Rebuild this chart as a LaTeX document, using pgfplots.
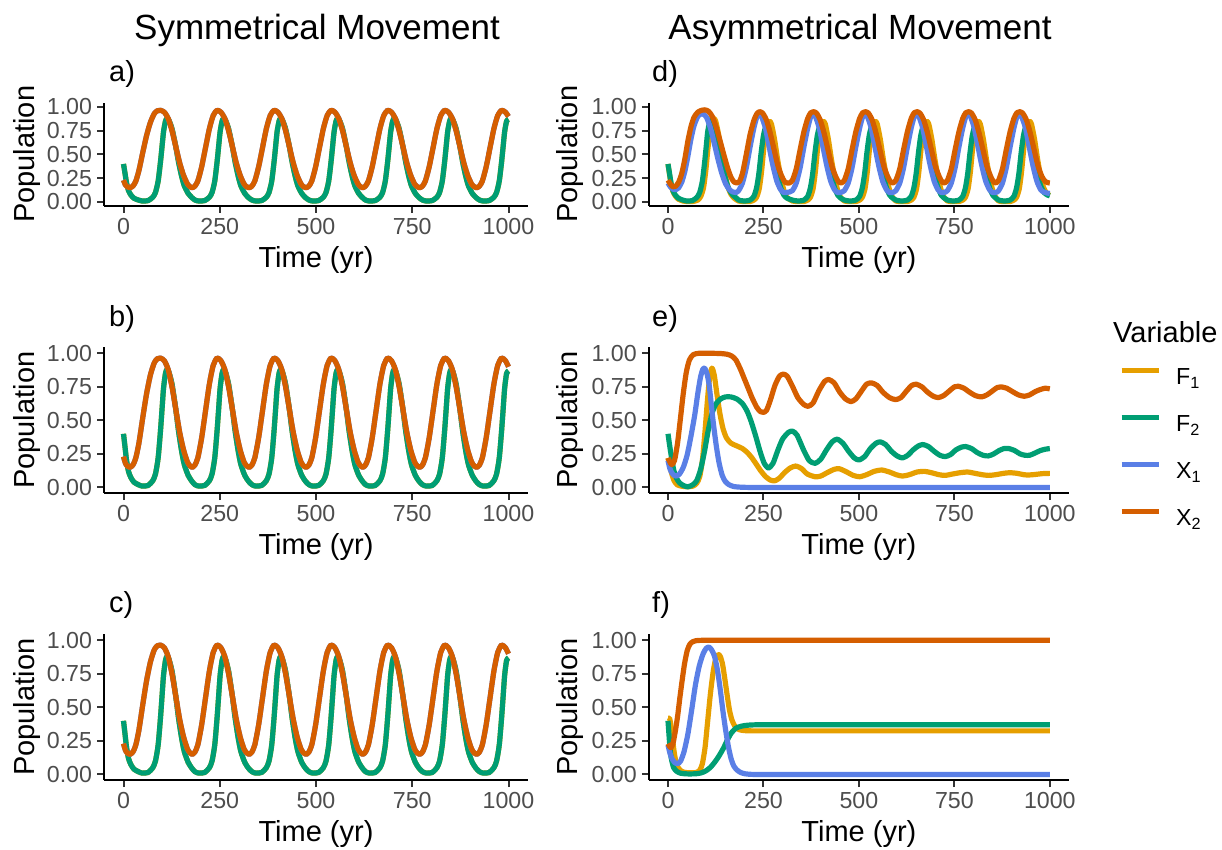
\documentclass[border=0pt]{standalone}
\usepackage{pgfplots}
\pgfplotsset{compat=1.18}
\usepackage{pgfplotstable}
\usepackage{fontspec}
\setmainfont{Liberation Sans}
\definecolor{cF1}{HTML}{E69F00}
\definecolor{cF2}{HTML}{009E73}
\definecolor{cX1}{HTML}{5A7FE6}
\definecolor{cX2}{HTML}{D55E00}
\definecolor{tickgray}{HTML}{4D4D4D}
\definecolor{tickcol}{HTML}{333333}

% ---------------- symmetric panels (a, b, c) ----------------
\pgfplotstableread{
t v
0 0.23
5 0.18
10 0.16
17 0.15
25 0.17
32 0.22
40 0.33
50 0.52
60 0.70
70 0.84
80 0.93
88 0.96
96 0.965
106 0.945
116 0.88
126 0.75
136 0.58
146 0.41
156 0.28
166 0.19
173 0.16
178 0.15
185 0.165
193 0.22
203 0.37
213 0.57
223 0.77
233 0.91
243 0.965
253 0.945
263 0.88
273 0.75
283 0.58
293 0.41
303 0.28
313 0.19
320 0.16
326 0.15
333 0.165
341 0.22
351 0.37
361 0.57
371 0.77
381 0.91
391 0.965
401 0.945
411 0.88
421 0.75
431 0.58
441 0.41
451 0.28
461 0.19
468 0.16
474 0.15
481 0.165
489 0.22
499 0.37
509 0.57
519 0.77
529 0.91
539 0.965
549 0.945
559 0.88
569 0.75
579 0.58
589 0.41
599 0.28
609 0.19
616 0.16
621 0.15
628 0.165
636 0.22
646 0.37
656 0.57
666 0.77
676 0.91
686 0.965
696 0.945
706 0.88
716 0.75
726 0.58
736 0.41
746 0.28
756 0.19
763 0.16
769 0.15
776 0.165
784 0.22
794 0.37
804 0.57
814 0.77
824 0.91
834 0.965
844 0.945
854 0.88
864 0.75
874 0.58
884 0.41
894 0.28
904 0.19
911 0.16
917 0.15
924 0.165
932 0.22
942 0.37
952 0.57
962 0.77
972 0.91
982 0.965
992 0.945
1000 0.90
}\symX

\pgfplotstableread{
t v
0 0.40
4 0.30
8 0.20
13 0.12
19 0.075
27 0.04
39 0.02
49 0.01
64 0.015
76 0.05
83 0.10
90 0.22
96 0.42
100 0.58
104 0.74
109 0.85
113 0.88
118 0.86
126 0.77
135 0.60
143 0.42
151 0.27
158 0.17
168 0.09
178 0.045
186 0.02
196 0.01
211 0.015
223 0.05
230 0.10
237 0.22
243 0.42
247 0.58
251 0.74
256 0.85
260 0.88
265 0.86
273 0.77
282 0.60
290 0.42
298 0.27
305 0.17
315 0.09
325 0.045
334 0.02
344 0.01
359 0.015
371 0.05
378 0.10
385 0.22
391 0.42
395 0.58
399 0.74
404 0.85
408 0.88
413 0.86
421 0.77
430 0.60
438 0.42
446 0.27
453 0.17
463 0.09
473 0.045
482 0.02
492 0.01
507 0.015
519 0.05
526 0.10
533 0.22
539 0.42
543 0.58
547 0.74
552 0.85
556 0.88
561 0.86
569 0.77
578 0.60
586 0.42
594 0.27
601 0.17
611 0.09
621 0.045
629 0.02
639 0.01
654 0.015
666 0.05
673 0.10
680 0.22
686 0.42
690 0.58
694 0.74
699 0.85
703 0.88
708 0.86
716 0.77
725 0.60
733 0.42
741 0.27
748 0.17
758 0.09
768 0.045
777 0.02
787 0.01
802 0.015
814 0.05
821 0.10
828 0.22
834 0.42
838 0.58
842 0.74
847 0.85
851 0.88
856 0.86
864 0.77
873 0.60
881 0.42
889 0.27
896 0.17
906 0.09
916 0.045
925 0.02
935 0.01
950 0.015
962 0.05
969 0.10
976 0.22
982 0.42
986 0.58
990 0.74
995 0.85
1000 0.87
}\symF

% ---------------- panel d ----------------
\pgfplotstableread{
t v
0 0.23
6 0.19
13 0.16
20 0.165
28 0.21
36 0.30
44 0.45
52 0.64
60 0.79
68 0.89
78 0.945
88 0.965
96 0.97
106 0.955
116 0.90
126 0.79
136 0.65
146 0.50
156 0.36
165 0.26
173 0.21
180 0.20
187 0.215
195 0.30
205 0.50
215 0.71
225 0.86
233 0.93
240 0.95
248 0.935
258 0.86
268 0.72
278 0.55
288 0.38
298 0.27
306 0.21
312 0.20
318 0.20
326 0.23
336 0.35
346 0.55
356 0.74
366 0.88
374 0.94
381 0.95
389 0.935
399 0.86
409 0.72
419 0.55
429 0.38
439 0.27
447 0.21
454 0.20
462 0.23
472 0.35
482 0.55
492 0.74
502 0.88
510 0.94
517 0.95
525 0.935
535 0.86
545 0.72
555 0.55
565 0.38
575 0.27
583 0.21
589 0.20
597 0.23
607 0.35
617 0.55
627 0.74
637 0.88
645 0.94
652 0.95
660 0.935
670 0.86
680 0.72
690 0.55
700 0.38
710 0.27
718 0.21
724 0.20
732 0.23
742 0.35
752 0.55
762 0.74
772 0.88
780 0.94
787 0.95
795 0.935
805 0.86
815 0.72
825 0.55
835 0.38
845 0.27
853 0.21
859 0.20
866 0.23
876 0.35
886 0.55
896 0.74
906 0.88
914 0.94
921 0.95
929 0.935
939 0.86
949 0.72
959 0.55
969 0.38
979 0.27
987 0.22
993 0.205
1000 0.20
}\dXtwo

\pgfplotstableread{
t v
0 0.20
6 0.16
13 0.135
20 0.13
28 0.15
36 0.21
44 0.32
52 0.48
60 0.66
68 0.80
78 0.90
88 0.93
94 0.92
101 0.89
111 0.78
121 0.62
131 0.45
141 0.30
151 0.19
161 0.13
170 0.105
178 0.10
185 0.12
195 0.20
205 0.36
215 0.58
225 0.78
233 0.90
238 0.93
245 0.90
255 0.78
265 0.58
275 0.38
285 0.22
295 0.13
303 0.10
310 0.10
318 0.105
326 0.12
336 0.20
346 0.36
356 0.58
366 0.78
374 0.90
379 0.93
386 0.90
396 0.78
406 0.58
416 0.38
426 0.22
436 0.13
444 0.10
451 0.10
456 0.105
462 0.12
472 0.20
482 0.36
492 0.58
502 0.78
510 0.90
515 0.93
522 0.90
532 0.78
542 0.58
552 0.38
562 0.22
572 0.13
580 0.10
587 0.10
592 0.105
597 0.12
607 0.20
617 0.36
627 0.58
637 0.78
645 0.90
650 0.93
657 0.90
667 0.78
677 0.58
687 0.38
697 0.22
707 0.13
715 0.10
722 0.10
727 0.105
732 0.12
742 0.20
752 0.36
762 0.58
772 0.78
780 0.90
785 0.93
792 0.90
802 0.78
812 0.58
822 0.38
832 0.22
842 0.13
850 0.10
857 0.10
862 0.105
866 0.12
876 0.20
886 0.36
896 0.58
906 0.78
914 0.90
919 0.93
926 0.90
936 0.78
946 0.58
956 0.38
966 0.22
976 0.13
984 0.105
992 0.095
1000 0.09
}\dXone

\pgfplotstableread{
t v
0 0.40
4 0.30
8 0.20
13 0.12
19 0.075
27 0.04
39 0.02
49 0.01
64 0.015
76 0.05
83 0.10
90 0.22
96 0.42
100 0.58
104 0.74
109 0.84
113 0.87
118 0.85
126 0.75
135 0.57
143 0.39
151 0.24
158 0.15
168 0.08
178 0.045
185 0.02
200 0.01
215 0.02
225 0.06
232 0.15
238 0.30
244 0.52
250 0.70
255 0.78
259 0.80
264 0.77
272 0.62
280 0.43
288 0.26
296 0.14
304 0.07
312 0.04
326 0.02
341 0.01
356 0.02
366 0.06
373 0.15
379 0.30
385 0.52
391 0.70
396 0.78
400 0.80
405 0.77
413 0.62
421 0.43
429 0.26
437 0.14
445 0.07
453 0.04
462 0.02
477 0.01
492 0.02
502 0.06
509 0.15
515 0.30
521 0.52
527 0.70
532 0.78
536 0.80
541 0.77
549 0.62
557 0.43
565 0.26
573 0.14
581 0.07
589 0.04
597 0.02
612 0.01
627 0.02
637 0.06
644 0.15
650 0.30
656 0.52
662 0.70
667 0.78
671 0.80
676 0.77
684 0.62
692 0.43
700 0.26
708 0.14
716 0.07
724 0.04
732 0.02
747 0.01
762 0.02
772 0.06
779 0.15
785 0.30
791 0.52
797 0.70
802 0.78
806 0.80
811 0.77
819 0.62
827 0.43
835 0.26
843 0.14
851 0.07
859 0.04
866 0.02
881 0.01
896 0.02
906 0.06
913 0.15
919 0.30
925 0.52
931 0.70
936 0.78
940 0.80
945 0.77
953 0.62
961 0.43
969 0.27
977 0.16
985 0.10
993 0.075
1000 0.065
}\dFtwo

\pgfplotstableread{
t v
0 0.40
4 0.29
8 0.19
13 0.11
19 0.065
27 0.03
39 0.01
49 0.005
64 0.005
78 0.02
86 0.06
93 0.15
99 0.33
105 0.58
111 0.77
116 0.86
120 0.88
125 0.85
133 0.70
141 0.49
149 0.30
157 0.16
165 0.08
175 0.035
185 0.01
200 0.005
215 0.005
225 0.02
232 0.05
239 0.14
245 0.32
251 0.57
257 0.75
262 0.83
266 0.85
271 0.82
279 0.66
287 0.45
295 0.27
303 0.13
311 0.05
326 0.01
341 0.005
356 0.005
366 0.02
373 0.05
380 0.14
386 0.32
392 0.57
398 0.75
403 0.83
407 0.85
412 0.82
420 0.66
428 0.45
436 0.27
444 0.13
452 0.05
462 0.01
477 0.005
492 0.005
502 0.02
509 0.05
516 0.14
522 0.32
528 0.57
534 0.75
539 0.83
543 0.85
548 0.82
556 0.66
564 0.45
572 0.27
580 0.13
588 0.05
597 0.01
612 0.005
627 0.005
637 0.02
644 0.05
651 0.14
657 0.32
663 0.57
669 0.75
674 0.83
678 0.85
683 0.82
691 0.66
699 0.45
707 0.27
715 0.13
723 0.05
732 0.01
747 0.005
762 0.005
772 0.02
779 0.05
786 0.14
792 0.32
798 0.57
804 0.75
809 0.83
813 0.85
818 0.82
826 0.66
834 0.45
842 0.27
850 0.13
858 0.05
866 0.01
881 0.005
896 0.005
906 0.02
913 0.05
920 0.14
926 0.32
932 0.57
938 0.75
943 0.83
947 0.85
952 0.82
960 0.66
968 0.45
976 0.27
984 0.15
992 0.09
1000 0.07
}\dFone

% ---------------- panel e ----------------
\pgfplotstableread{
t v
0 0.22
5 0.19
10 0.17
17 0.20
25 0.33
32 0.50
40 0.70
48 0.86
56 0.95
66 0.99
80 1.0
100 1.0
120 1.0
140 0.998
155 0.993
167 0.98
178 0.95
190 0.88
200 0.81
210 0.74
220 0.67
232 0.60
242 0.565
250 0.56
258 0.575
268 0.65
280 0.76
292 0.83
302 0.845
312 0.83
325 0.76
340 0.67
355 0.62
367 0.605
380 0.63
395 0.72
410 0.79
421 0.805
435 0.78
450 0.71
465 0.66
479 0.64
492 0.66
507 0.72
520 0.77
533 0.78
548 0.76
563 0.71
580 0.67
596 0.655
610 0.67
625 0.72
638 0.76
650 0.77
665 0.75
680 0.71
695 0.68
708 0.67
722 0.685
737 0.72
750 0.75
760 0.755
775 0.74
790 0.71
805 0.685
821 0.675
835 0.69
850 0.72
862 0.745
872 0.75
887 0.74
902 0.715
918 0.69
933 0.68
947 0.69
962 0.715
975 0.73
988 0.74
1000 0.735
}\eXtwo

\pgfplotstableread{
t v
0 0.20
5 0.14
10 0.11
16 0.09
22 0.085
30 0.10
40 0.15
50 0.24
60 0.38
70 0.54
78 0.70
85 0.82
91 0.88
96 0.89
102 0.85
108 0.76
114 0.60
120 0.45
127 0.30
134 0.18
142 0.09
150 0.045
160 0.02
172 0.007
185 0.003
200 0.001
220 0
250 0
300 0
400 0
500 0
600 0
700 0
800 0
900 0
1000 0
}\eXone

\pgfplotstableread{
t v
0 0.40
5 0.30
10 0.21
15 0.13
22 0.07
30 0.035
40 0.015
52 0.005
65 0.02
75 0.05
85 0.13
95 0.26
105 0.42
115 0.55
125 0.62
138 0.66
150 0.675
165 0.675
180 0.66
195 0.625
207 0.57
218 0.49
230 0.38
241 0.27
252 0.18
263 0.145
275 0.18
288 0.28
300 0.36
315 0.41
326 0.42
338 0.39
355 0.28
370 0.20
385 0.18
400 0.21
415 0.28
430 0.34
443 0.36
458 0.33
473 0.27
488 0.22
500 0.205
515 0.23
530 0.29
545 0.33
556 0.34
570 0.32
585 0.27
600 0.235
614 0.22
628 0.24
642 0.28
656 0.31
668 0.32
682 0.305
697 0.27
712 0.24
726 0.23
740 0.245
754 0.28
768 0.30
780 0.305
795 0.29
810 0.26
825 0.24
839 0.235
853 0.25
867 0.275
880 0.29
893 0.29
908 0.275
922 0.25
935 0.24
947 0.24
960 0.255
975 0.275
988 0.285
1000 0.29
}\eFtwo

\pgfplotstableread{
t v
0 0.22
5 0.16
10 0.10
16 0.05
24 0.02
35 0.01
50 0.005
65 0.01
75 0.03
83 0.08
90 0.20
97 0.42
103 0.64
109 0.82
115 0.89
121 0.84
128 0.70
136 0.55
144 0.44
153 0.37
165 0.33
180 0.31
195 0.29
208 0.26
220 0.22
232 0.17
244 0.12
256 0.08
268 0.055
280 0.05
292 0.07
305 0.11
320 0.145
335 0.16
350 0.14
365 0.10
385 0.08
400 0.085
420 0.115
435 0.135
448 0.14
465 0.12
485 0.09
502 0.08
520 0.095
540 0.12
560 0.13
580 0.115
598 0.095
614 0.085
632 0.095
652 0.115
672 0.12
690 0.11
710 0.095
726 0.09
745 0.10
765 0.11
785 0.115
805 0.105
823 0.095
840 0.09
858 0.095
878 0.105
895 0.11
915 0.105
932 0.095
945 0.093
962 0.097
980 0.103
1000 0.105
}\eFone

% ---------------- panel f ----------------
\pgfplotstableread{
t v
0 0.23
4 0.21
8 0.20
13 0.23
19 0.32
25 0.43
31 0.57
37 0.70
43 0.82
50 0.92
57 0.97
65 0.99
75 0.998
88 1.0
105 1.0
130 1.0
170 1.0
220 1.0
300 1.0
400 1.0
500 1.0
600 1.0
700 1.0
800 1.0
900 1.0
1000 1.0
}\fXtwo

\pgfplotstableread{
t v
0 0.22
5 0.16
10 0.12
17 0.09
25 0.08
33 0.10
42 0.17
52 0.30
62 0.48
72 0.67
82 0.81
92 0.90
100 0.94
107 0.95
114 0.93
122 0.88
130 0.77
137 0.63
144 0.47
151 0.33
158 0.21
165 0.12
172 0.065
180 0.035
190 0.015
202 0.005
216 0.001
232 0
255 0
290 0
340 0
400 0
500 0
600 0
700 0
800 0
900 0
1000 0
}\fXone

\pgfplotstableread{
t v
0 0.40
3 0.28
6 0.17
10 0.10
15 0.05
22 0.025
32 0.01
45 0.005
60 0.004
75 0.006
87 0.012
98 0.025
110 0.05
122 0.09
134 0.14
146 0.20
156 0.26
166 0.31
178 0.345
192 0.36
208 0.367
228 0.37
255 0.37
290 0.37
340 0.37
400 0.37
500 0.37
600 0.37
700 0.37
800 0.37
900 0.37
1000 0.37
}\fFtwo

\pgfplotstableread{
t v
0 0.42
4 0.42
8 0.36
12 0.26
16 0.17
21 0.09
27 0.05
35 0.025
45 0.015
60 0.012
75 0.015
83 0.03
90 0.08
97 0.20
104 0.40
111 0.60
118 0.76
124 0.85
131 0.895
137 0.88
143 0.82
149 0.71
155 0.59
161 0.48
167 0.41
174 0.365
182 0.34
192 0.33
205 0.326
222 0.325
245 0.325
280 0.325
330 0.325
400 0.325
500 0.325
600 0.325
700 0.325
800 0.325
900 0.325
1000 0.325
}\fFone

\pgfplotsset{
  base/.style={
    scale only axis,
    xmin=-50, xmax=1050, ymin=-0.042, ymax=1.045,
    axis x line*=bottom, axis y line*=left,
    axis line style={line width=2pt, black, -},
    xtick={0,250,500,750,1000}, xticklabels={0,250,500,750,1000},
    ytick={0,0.25,0.5,0.75,1}, yticklabels={0.00,0.25,0.50,0.75,1.00},
    tick align=outside, major tick length=7pt,
    tick style={line width=2pt, color=tickcol},
    ticklabel style={font=\fontsize{23.2}{26}\selectfont, text=tickgray},
    yticklabel style={anchor=east, inner sep=0pt, xshift=-5pt},
    xticklabel style={anchor=north, inner sep=0pt, yshift=-5pt},
    xlabel={Time (yr)}, ylabel={Population},
    label style={font=\fontsize{29}{32}\selectfont},
    xlabel style={at={(axis description cs:0.5,0)}, anchor=center, yshift=-54pt},
    every axis plot/.append style={line width=5.2pt, line join=round, smooth, tension=0.4},
    anchor=south west,
  },
  leftcol/.style={width=423.5pt, ylabel style={at={(axis description cs:-0.182,0.5)}, anchor=center}},
  rightcol/.style={width=420pt, ylabel style={at={(axis description cs:-0.188,0.5)}, anchor=center}},
  row1/.style={height=103.3pt},
  row2/.style={height=145.8pt},
}

\begin{document}
\begin{tikzpicture}
\useasboundingbox (0pt,0pt) rectangle (1222pt,850pt);

\node[anchor=base, font=\fontsize{35}{40}\selectfont, inner sep=0pt] at (317pt,810pt) {Symmetrical Movement};
\node[anchor=base, font=\fontsize{35}{40}\selectfont, inner sep=0pt] at (860pt,810pt) {Asymmetrical Movement};

\node[anchor=base west, font=\fontsize{29}{32}\selectfont, inner sep=0pt] at (109pt,768pt) {a)};
\node[anchor=base west, font=\fontsize{29}{32}\selectfont, inner sep=0pt] at (109pt,523pt) {b)};
\node[anchor=base west, font=\fontsize{29}{32}\selectfont, inner sep=0pt] at (109pt,237pt) {c)};
\node[anchor=base west, font=\fontsize{29}{32}\selectfont, inner sep=0pt] at (652pt,768pt) {d)};
\node[anchor=base west, font=\fontsize{29}{32}\selectfont, inner sep=0pt] at (652pt,523pt) {e)};
\node[anchor=base west, font=\fontsize{29}{32}\selectfont, inner sep=0pt] at (652pt,237pt) {f)};

\node[anchor=base west, font=\fontsize{29}{32}\selectfont, inner sep=0pt] at (1113pt,507pt) {Variable};

% a
\begin{axis}[base, leftcol, row1, at={(104.25pt,644pt)}]
\addplot[cF1] table[x=t,y=v] {\symF};
\addplot[cF2] table[x=t,y=v] {\symF};
\addplot[cX1] table[x=t,y=v] {\symX};
\addplot[cX2] table[x=t,y=v] {\symX};
\end{axis}
% b
\begin{axis}[base, leftcol, row2, at={(104.25pt,356.9pt)}]
\addplot[cF1] table[x=t,y=v] {\symF};
\addplot[cF2] table[x=t,y=v] {\symF};
\addplot[cX1] table[x=t,y=v] {\symX};
\addplot[cX2] table[x=t,y=v] {\symX};
\end{axis}
% c
\begin{axis}[base, leftcol, row2, at={(104.25pt,69.9pt)}]
\addplot[cF1] table[x=t,y=v] {\symF};
\addplot[cF2] table[x=t,y=v] {\symF};
\addplot[cX1] table[x=t,y=v] {\symX};
\addplot[cX2] table[x=t,y=v] {\symX};
\end{axis}
% d
\begin{axis}[base, rightcol, row1, at={(648.9pt,644pt)}]
\addplot[cF1] table[x=t,y=v] {\dFone};
\addplot[cF2] table[x=t,y=v] {\dFtwo};
\addplot[cX1] table[x=t,y=v] {\dXone};
\addplot[cX2] table[x=t,y=v] {\dXtwo};
\end{axis}
% e
\begin{axis}[base, rightcol, row2, at={(648.9pt,356.9pt)},
  legend style={draw=none, fill=none, at={(axis description cs:1.112,0.876)}, anchor=north west,
    font=\fontsize{23.2}{26}\selectfont, row sep=25pt, column sep=15pt,
    nodes={inner sep=0pt, text height=17pt, text depth=5pt}},
  legend cell align=left,
  legend image code/.code={\draw[#1, line width=5pt] (0pt,8pt) -- (37pt,8pt);}]
\addplot[cF1] table[x=t,y=v] {\eFone};
\addlegendentry{F\textsubscript{1}}
\addplot[cF2] table[x=t,y=v] {\eFtwo};
\addlegendentry{F\textsubscript{2}}
\addplot[cX1] table[x=t,y=v] {\eXone};
\addlegendentry{X\textsubscript{1}}
\addplot[cX2] table[x=t,y=v] {\eXtwo};
\addlegendentry{X\textsubscript{2}}
\end{axis}
% f
\begin{axis}[base, rightcol, row2, at={(648.9pt,69.9pt)}]
\addplot[cF1] table[x=t,y=v] {\fFone};
\addplot[cF2] table[x=t,y=v] {\fFtwo};
\addplot[cX1] table[x=t,y=v] {\fXone};
\addplot[cX2] table[x=t,y=v] {\fXtwo};
\end{axis}
\end{tikzpicture}
\end{document}
